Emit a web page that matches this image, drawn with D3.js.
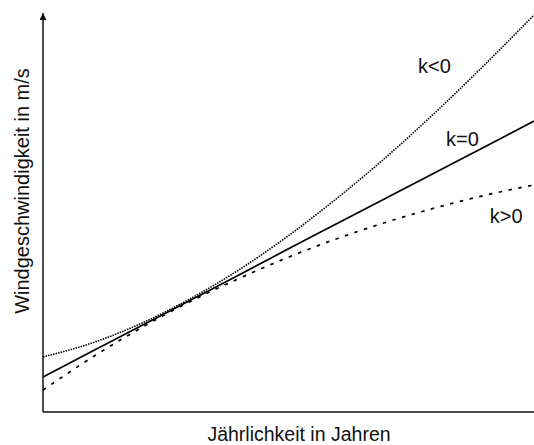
<html lang="de">
<head>
  <meta http-equiv="Content-Type" content="text/html; charset=UTF-8">
  <title>Jährlichkeit</title>
  <script type="text/javascript" src="https://cdn.jsdelivr.net/npm/d3@7"></script>
  <style type="text/css">
    body { margin: 0; background: #fff; }
    text { font-family: Arial, "Liberation Sans", sans-serif; fill: #111; }
  </style>
</head>
<body>
  <script type="text/javascript">
    // (arbitrary units, 0..10 along x, 0..100 along y)
    var xs = [0, 1, 2, 3, 4, 5, 6, 7, 8, 9, 10];
    var kZero = [8.8, 15.2, 21.6, 28.0, 34.4, 40.9, 47.3, 53.7, 60.1, 66.5, 72.9];
    var kNeg = [13.8, 17.3, 22.2, 28.4, 35.7, 44.2, 53.7, 64.0, 75.2, 87.1, 99.5];
    var kPos = [5.5, 13.7, 21.1, 27.7, 33.5, 38.8, 43.5, 47.6, 51.2, 54.3, 56.9];
    var labels = ["k<0", "k=0", "k>0"];
    var labelX = [7.64, 8.21, 9.10];
    var labelY = [85.0, 66.7, 47.4];

    var width = 534, height = 445;
    var svg = d3.select("body").append("svg").attr("width", width).attr("height", height);

    var x = d3.scaleLinear().domain([0, 10]).range([43, 534]);
    var y = d3.scaleLinear().domain([0, 100]).range([412, 13]);

    svg.append("defs").append("marker")
      .attr("id", "arrow")
      .attr("viewBox", "0 0 10 10")
      .attr("refX", 10).attr("refY", 5)
      .attr("markerWidth", 8).attr("markerHeight", 7)
      .attr("markerUnits", "userSpaceOnUse")
      .attr("orient", "auto")
      .append("path").attr("d", "M0,0 L10,5 L0,10 z").attr("fill", "#111");

    // axes
    svg.append("line")
      .attr("x1", x(0)).attr("y1", y(0))
      .attr("x2", x(10)).attr("y2", y(0))
      .attr("stroke", "#111").attr("stroke-width", 1.5);
    svg.append("line")
      .attr("x1", x(0)).attr("y1", y(0))
      .attr("x2", x(0)).attr("y2", y(100))
      .attr("stroke", "#111").attr("stroke-width", 1.5)
      .attr("marker-end", "url(#arrow)");

    var line = d3.line()
      .x(function(d, i) { return x(xs[i]); })
      .y(function(d) { return y(d); })
      .curve(d3.curveMonotoneX);

    svg.append("path").attr("d", line(kZero))
      .attr("fill", "none").attr("stroke", "#000").attr("stroke-width", 1.7);
    svg.append("path").attr("d", line(kNeg))
      .attr("fill", "none").attr("stroke", "#000").attr("stroke-width", 1.6)
      .attr("stroke-dasharray", "1.5,1.1");
    svg.append("path").attr("d", line(kPos))
      .attr("fill", "none").attr("stroke", "#000").attr("stroke-width", 1.7)
      .attr("stroke-dasharray", "3.5,6.5");

    svg.selectAll("text.lbl").data(labels).enter().append("text")
      .attr("class", "lbl")
      .attr("x", function(d, i) { return x(labelX[i]); })
      .attr("y", function(d, i) { return y(labelY[i]); })
      .attr("font-size", 20)
      .text(function(d) { return d; });

    svg.append("text")
      .attr("x", 299).attr("y", 441)
      .attr("text-anchor", "middle")
      .attr("font-size", 19.5)
      .text("Jährlichkeit in Jahren");

    svg.append("text")
      .attr("transform", "translate(29,191) rotate(-90)")
      .attr("text-anchor", "middle")
      .attr("font-size", 20)
      .text("Windgeschwindigkeit in m/s");
  </script>
</body>
</html>
